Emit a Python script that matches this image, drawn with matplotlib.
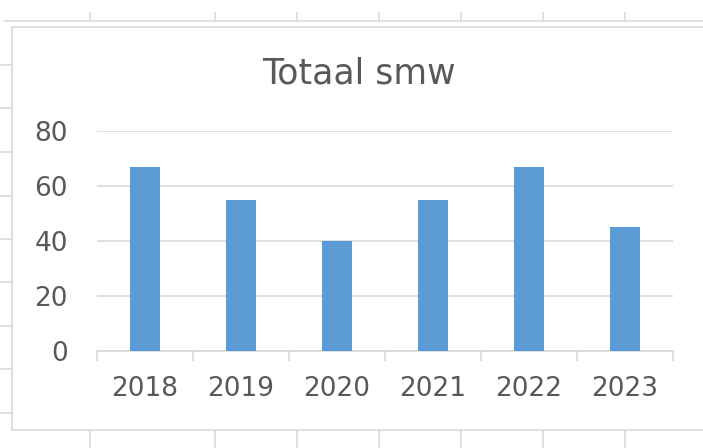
import matplotlib
matplotlib.use("Agg")
import matplotlib.pyplot as plt
from matplotlib.lines import Line2D
from matplotlib.patches import Rectangle

years = ["2018", "2019", "2020", "2021", "2022", "2023"]
values = [67, 55, 40, 55, 67, 45]
y_ticks = [0, 20, 40, 60, 80]
title = "Totaal smw"

W, H = 703, 448
plt.rcParams['font.family'] = ['DejaVu Sans']
fig = plt.figure(figsize=(W / 100, H / 100), dpi=100)
fig.patch.set_facecolor("white")

grid_c = "#d9d9d9"
text_c = "#595959"
bar_c = "#5b9bd5"

def px(x, y):
    return x / W, 1 - y / H

# spreadsheet background decoration
def hline(x0, x1, y):
    (a, b), (c, d) = px(x0, y), px(x1, y)
    fig.add_artist(Line2D([a, c], [b, d], color=grid_c, lw=1.2, zorder=-2))

def vline(x, y0, y1):
    (a, b), (c, d) = px(x, y0), px(x, y1)
    fig.add_artist(Line2D([a, c], [b, d], color=grid_c, lw=1.2, zorder=-2))

hline(5, 703, 21)
for x in [90, 215, 297, 379, 461, 543, 625]:
    vline(x, 13, 21)
    vline(x, 430, 448)
for y in [65, 108, 152, 196, 239, 282, 326, 369, 413]:
    hline(0, 12, y)
# chart frame
x0, y0 = px(12, 430)
fig.add_artist(Rectangle((x0, y0), 1.0, (430 - 27) / H, transform=fig.transFigure,
                         facecolor="white", edgecolor=grid_c, lw=1.2, zorder=-1))

left, right = 97 / W, 673 / W
bottom, top = 1 - 351 / H, 1 - 131 / H
ax = fig.add_axes([left, bottom, right - left, top - bottom])
ax.set_zorder(2)
ax.set_facecolor("none")

xs = list(range(len(years)))
ax.bar(xs, values, width=0.31, color=bar_c, zorder=3)
ax.set_xlim(-0.5, len(years) - 0.5)
ax.set_ylim(0, 80)
ax.set_yticks(y_ticks)
ax.set_yticklabels([str(v) for v in y_ticks])
ax.yaxis.grid(True, color=grid_c, lw=1.2, zorder=0)
ax.set_axisbelow(True)
ax.set_xticks(xs)
ax.set_xticklabels(years)
ax.tick_params(axis='y', length=0, pad=21, labelsize=19, labelcolor=text_c)
ax.tick_params(axis='x', length=0, pad=18, labelsize=19, labelcolor=text_c)
# category boundary ticks
ax.set_xticks([i - 0.5 for i in range(len(years) + 1)], minor=True)
ax.tick_params(axis='x', which='minor', length=7, width=1.2, color=grid_c, direction='out')
for s in ["top", "right", "left"]:
    ax.spines[s].set_visible(False)
ax.spines["bottom"].set_color(grid_c)
ax.spines["bottom"].set_linewidth(1.2)

fig.text(359 / W, 1 - 73 / H, title, ha="center", va="center", fontsize=25, color=text_c)

fig.savefig("out.png", dpi=100, facecolor="white")
